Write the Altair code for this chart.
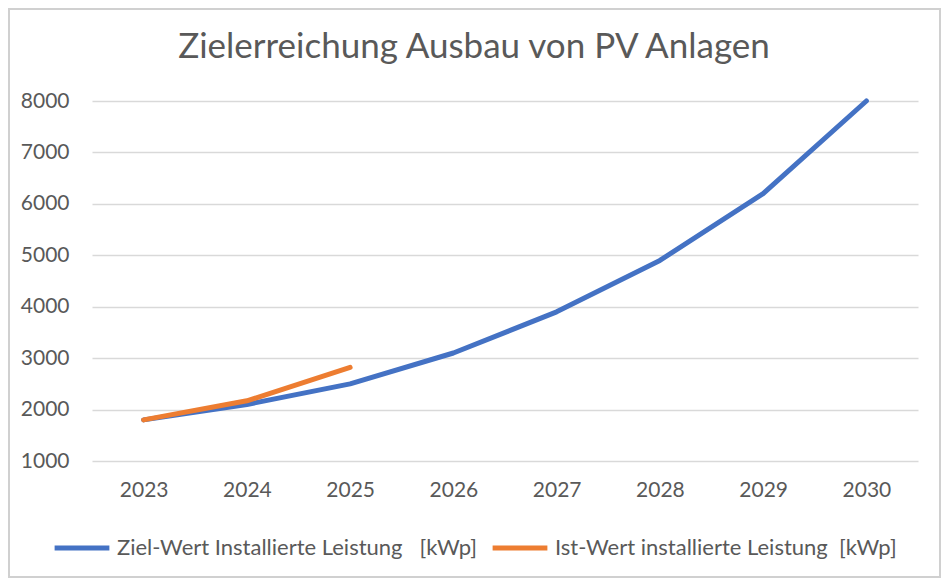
import altair as alt
import pandas as pd

years = ["2023", "2024", "2025", "2026", "2027", "2028", "2029", "2030"]
ziel_werte = [1800, 2100, 2500, 3100, 3900, 4900, 6200, 8000]
ist_jahre = ["2023", "2024", "2025"]
ist_werte = [1800, 2170, 2820]

title_text = "Zielerreichung Ausbau von PV Anlagen"
ziel_name = "Ziel-Wert Installierte Leistung\u00a0\u00a0\u00a0[kWp]"
ist_name = "Ist-Wert installierte Leistung\u00a0\u00a0[kWp]"

df = pd.concat([
    pd.DataFrame({"Jahr": years, "Wert": ziel_werte, "Serie": ziel_name}),
    pd.DataFrame({"Jahr": ist_jahre, "Wert": ist_werte, "Serie": ist_name}),
])

FONT = "Lato"
GREY = "#595959"

lines = alt.Chart(df).mark_line(strokeWidth=5, strokeCap="round", strokeJoin="round").encode(
    x=alt.X("Jahr:O", sort=years, scale=alt.Scale(type="point", padding=0.5),
            axis=alt.Axis(title=None, labelAngle=0, ticks=False, domain=False,
                          labelPadding=18, labelFontSize=21, labelColor=GREY, labelFont=FONT)),
    y=alt.Y("Wert:Q", scale=alt.Scale(domain=[1000, 8000], nice=False),
            axis=alt.Axis(title=None, values=list(range(1000, 9000, 1000)), format="d",
                          ticks=False, domain=False, labelPadding=23, labelFontSize=21,
                          labelColor=GREY, labelFont=FONT, gridColor="#D9D9D9", gridWidth=1.5)),
    color=alt.Color("Serie:N", sort=[ziel_name, ist_name],
                    scale=alt.Scale(domain=[ziel_name, ist_name], range=["#4472C4", "#ED7D31"]),
                    legend=alt.Legend(title=None, orient="none", direction="horizontal",
                                      legendX=-40, legendY=417, padding=0, symbolType="stroke",
                                      symbolStrokeWidth=5, symbolSize=3000, labelFontSize=22,
                                      labelColor=GREY, labelFont=FONT, columnPadding=4,
                                      labelOffset=5, labelLimit=600)),
)

title = alt.Chart(pd.DataFrame({"t": [title_text]})).mark_text(
    fontSize=35, font=FONT, color=GREY, align="center", baseline="middle"
).encode(text="t:N", x=alt.value(382), y=alt.value(-54))

border = alt.Chart(pd.DataFrame({"a": [0]})).mark_rect(
    fill=None, stroke="#D0D0D0", strokeWidth=2
).encode(x=alt.value(-83), x2=alt.value(848), y=alt.value(-92), y2=alt.value(476))

chart = (border + lines + title).properties(
    width=826, height=360,
    autosize=alt.AutoSizeParams(type="none"),
    padding={"left": 84, "top": 93, "right": 23, "bottom": 117},
).configure_view(stroke=None)

chart.save("out.html", embed_options={"renderer": "svg", "actions": False})
